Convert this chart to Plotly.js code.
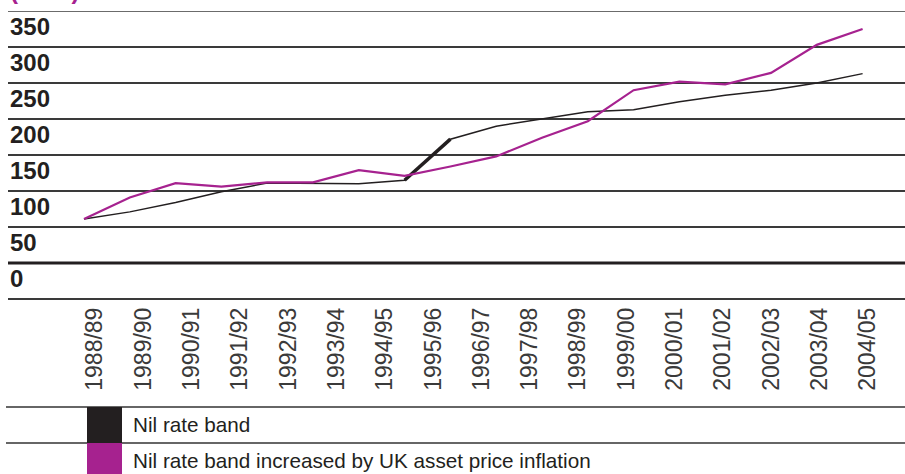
<!DOCTYPE html>
<html>
<head>
<meta charset="utf-8">
<script src="https://cdn.plot.ly/plotly-3.0.1.min.js"></script>
<style>html,body{margin:0;padding:0;background:#fff;}#chart{width:905px;height:474px;}</style>
</head>
<body>
<div id="chart"></div>
<script>
// Tick labels along the bottom (17 periods)
const periods = ['1988/89','1989/90','1990/91','1991/92','1992/93','1993/94','1994/95','1995/96','1996/97','1997/98','1998/99','1999/00','2000/01','2001/02','2002/03','2003/04','2004/05'];
// Series values (£000), 18 plotted points as drawn in the chart
const nilRateBand = [111, 121, 134, 149, 161, 161, 160, 165, 222, 240, 250, 260, 263, 274, 283, 290, 300, 313];
const nilRateBandInflated = [111, 141, 161, 156, 162, 162, 179, 171, 184, 198, 224, 247, 290, 302, 298, 314, 353, 375];
const seriesNames = ['Nil rate band', 'Nil rate band increased by UK asset price inflation'];
const yTicks = [0, 50, 100, 150, 200, 250, 300, 350];
const yTop = 400;
const unitLabel = '(£000)';
const colors = ['#231f20', '#a6228f'];

const idx = nilRateBand.map((_, i) => i);
const W = 905, H = 474, mL = 8, mT = 11, plotBottom = 299;
const plotH = plotBottom - mT, plotW = W - mL;
const py = p => (plotBottom - p) / plotH;   // pixel y -> paper y
const px = p => (p - mL) / plotW;           // pixel x -> paper x

const traces = [
  {x: idx, y: nilRateBand, mode: 'lines', line: {color: colors[0], width: 1.5}, xaxis: 'x', yaxis: 'y', name: seriesNames[0], hoverinfo: 'skip'},
  {x: idx.slice(7, 9), y: nilRateBand.slice(7, 9), mode: 'lines', line: {color: colors[0], width: 3.5}, xaxis: 'x', yaxis: 'y', showlegend: false, hoverinfo: 'skip'},
  {x: idx, y: nilRateBandInflated, mode: 'lines', line: {color: colors[1], width: 2.2}, xaxis: 'x', yaxis: 'y', name: seriesNames[1], hoverinfo: 'skip'},
  {x: periods.map((_, i) => i), y: periods.map(() => null), mode: 'lines', xaxis: 'x2', yaxis: 'y', showlegend: false, hoverinfo: 'skip'}
];

const yFont = {family: 'Liberation Sans, Arial, sans-serif', size: 24, color: '#231f20', weight: 'bold'};
const annotations = yTicks.map(v => ({
  xref: 'paper', yref: 'y', x: 0, y: v, xanchor: 'left', yanchor: 'middle', yshift: 21, xshift: 0,
  text: String(v), showarrow: false, font: yFont
}));
annotations.push({xref: 'paper', yref: 'y', x: 0, y: yTop, xanchor: 'left', yanchor: 'middle', yshift: 21, xshift: 0,
  text: unitLabel, showarrow: false, font: Object.assign({}, yFont, {color: colors[1]})});

const legendRows = [[407, 443], [443, 480]];
const textCenters = [424, 460];
const shapes = [
  {type: 'line', xref: 'paper', yref: 'y', x0: 0, x1: 1, y0: yTop, y1: yTop, line: {color: '#3a3a3a', width: 1.4}},
  {type: 'line', xref: 'paper', yref: 'y', x0: 0, x1: 1, y0: 50, y1: 50, line: {color: '#231f20', width: 3}},
  {type: 'line', xref: 'paper', yref: 'paper', x0: px(6), x1: 1, y0: py(407), y1: py(407), line: {color: '#333', width: 1.5}},
  {type: 'line', xref: 'paper', yref: 'paper', x0: px(6), x1: 1, y0: py(443), y1: py(443), line: {color: '#333', width: 1.5}}
];
seriesNames.forEach((name, i) => {
  const [t, b] = legendRows[i];
  shapes.push({type: 'rect', xref: 'paper', yref: 'paper', x0: px(87), x1: px(122), y0: py(b), y1: py(t), line: {width: 0}, fillcolor: colors[i]});
  annotations.push({xref: 'paper', yref: 'paper', x: px(131), y: py(textCenters[i]), xanchor: 'left', yanchor: 'middle',
    text: name, showarrow: false, font: {family: 'Liberation Sans, Arial, sans-serif', size: 20.7, color: '#231f20'}});
});

const spacing = 45.8, firstPt = 84;
const lblSpacing = 48.3, firstLbl = 95;
const layout = {
  width: W, height: H,
  margin: {l: mL, r: 0, t: mT, b: H - plotBottom},
  paper_bgcolor: '#fff', plot_bgcolor: '#fff',
  showlegend: false,
  xaxis: {range: [(mL - firstPt) / spacing, (W - firstPt) / spacing], showgrid: false, zeroline: false, showticklabels: false, showline: false, ticks: '', fixedrange: true},
  xaxis2: {overlaying: 'x', side: 'bottom', anchor: 'y', range: [(mL - firstLbl) / lblSpacing, (W - firstLbl) / lblSpacing],
    tickmode: 'array', tickvals: periods.map((_, i) => i), ticktext: periods, tickangle: -90, ticks: '', ticklabelstandoff: 3,
    showgrid: false, zeroline: false, showline: false,
    tickfont: {family: 'Liberation Sans, Arial, sans-serif', size: 23, color: '#3a3a3a'}},
  yaxis: {range: [0, yTop], dtick: 50, tick0: 0, showticklabels: false, ticks: '', showgrid: true, gridcolor: '#3a3a3a', gridwidth: 1.4,
    zeroline: true, zerolinecolor: '#3a3a3a', zerolinewidth: 1.4, showline: false, fixedrange: true},
  shapes: shapes,
  annotations: annotations
};
Plotly.newPlot('chart', traces, layout, {staticPlot: true, displayModeBar: false});
</script>
</body>
</html>
